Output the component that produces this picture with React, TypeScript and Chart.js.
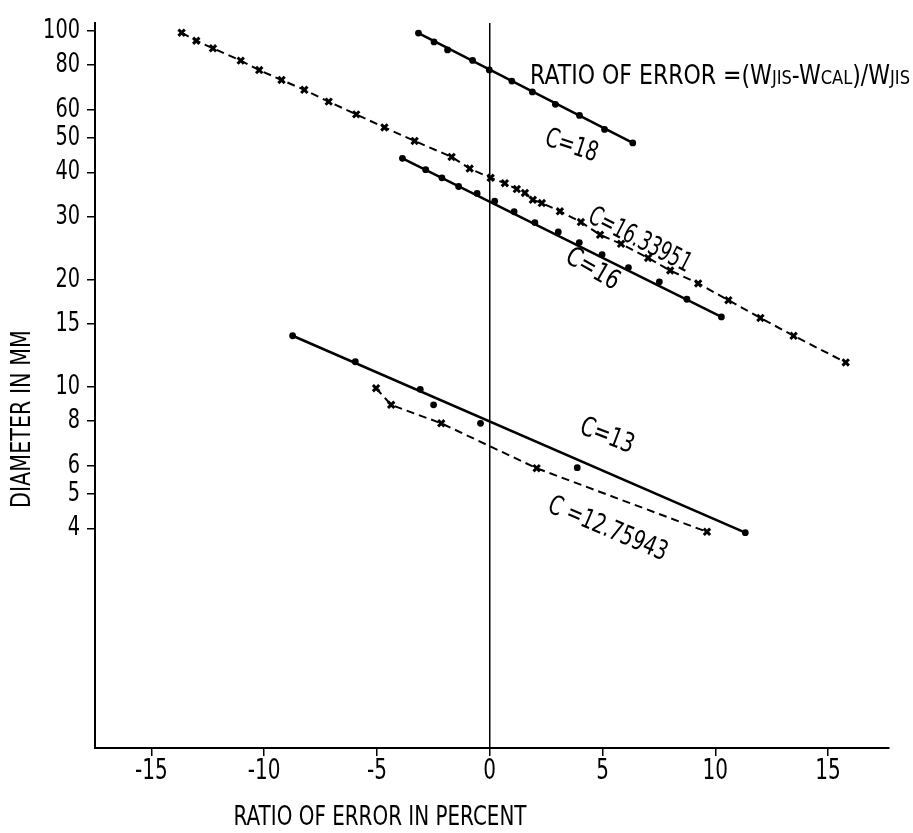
import React, { useEffect, useRef } from "react";
import { Chart, registerables } from "chart.js";

Chart.register(...registerables);

// ---------- data ----------
const X_TICKS = [-15, -10, -5, 0, 5, 10, 15];
const Y_TICKS = [4, 5, 6, 8, 10, 15, 20, 30, 40, 50, 60, 80, 100];

// C = 18 (solid, dots)
const C18_X = [-3.16, -2.47, -1.87, -0.76, -0.02, 0.98, 1.89, 2.91, 3.98, 5.09, 6.34];
const C18_Y = [98.5, 93.0, 88.3, 82.5, 77.6, 72.2, 67.3, 62.1, 57.8, 52.8, 48.4];

// C = 16.33951 (dashed, crosses)
const C1634_X = [-13.66, -13.01, -12.27, -11.04, -10.22, -9.23, -8.22, -7.14, -5.92, -4.67, -3.33, -1.69, -0.89, 0.04, 0.67, 1.2, 1.56, 1.91, 2.31, 3.11, 4.04, 4.89, 5.82, 7.02, 8.0, 9.24, 10.58, 12.0, 13.47, 15.78];
const C1634_Y = [98.7, 93.7, 89.2, 82.4, 77.5, 72.7, 68.2, 63.2, 58.2, 53.5, 49.0, 44.2, 41.0, 38.6, 37.3, 35.9, 35.0, 33.5, 32.8, 31.1, 29.0, 26.7, 25.2, 23.0, 21.2, 19.5, 17.5, 15.6, 13.9, 11.7];

// C = 16 (solid, dots)
const C16_X = [-3.87, -2.84, -2.12, -1.38, -0.56, 0.22, 1.08, 2.0, 3.04, 3.97, 4.98, 6.15, 7.52, 8.74, 10.27];
const C16_Y = [43.8, 40.7, 38.6, 36.5, 34.9, 33.2, 31.0, 28.9, 27.2, 25.4, 23.5, 21.6, 19.7, 17.6, 15.7];

// C = 13 (solid, dots)
const C13_X = [-8.74, -5.96, -3.08, -2.49, -0.41, 3.88, 11.33];
const C13_Y = [13.9, 11.75, 9.83, 8.89, 7.89, 5.92, 3.89];

// C = 12.75943 (dashed, crosses)
const C1276_X = [-5.04, -4.37, -2.15, 2.08, 9.63];
const C1276_Y = [9.9, 8.89, 7.89, 5.9, 3.91];

const SERIES_LABELS = ["C=18", "C=16.33951", "C=16", "C=13", "C =12.75943"];

const X_MIN = -17.5;
const X_MAX = 17.7;
const Y_MIN = 0.966;
const Y_MAX = 105.1;

// ---------- helpers ----------
const FONT = '"DejaVu Sans", sans-serif';

const toPts = (xs: number[], ys: number[]) => xs.map((x, i) => ({ x, y: ys[i] }));
const ends = (xs: number[], ys: number[]) => [
  { x: xs[0], y: ys[0] },
  { x: xs[xs.length - 1], y: ys[ys.length - 1] },
];

const solidLine = (xs: number[], ys: number[]) => ({
  data: ends(xs, ys),
  showLine: true,
  borderColor: "#000",
  borderWidth: 2.5,
  pointRadius: 0,
  fill: false,
});
const dots = (xs: number[], ys: number[]) => ({
  data: toPts(xs, ys),
  showLine: false,
  pointStyle: "circle",
  pointRadius: 3.4,
  pointBackgroundColor: "#000",
  pointBorderColor: "#000",
  pointBorderWidth: 0,
});
const dashed = (xs: number[], ys: number[]) => ({
  data: toPts(xs, ys),
  showLine: true,
  borderColor: "#000",
  borderWidth: 2,
  borderDash: [8, 5],
  pointStyle: "crossRot",
  pointRadius: 4.5,
  pointBorderWidth: 3,
  pointBorderColor: "#000",
  pointBackgroundColor: "#000",
  fill: false,
});

function fitText(ctx: CanvasRenderingContext2D, text: string, x: number, y: number, angle: number, size: number, targetW: number) {
  ctx.save();
  ctx.translate(x, y);
  ctx.rotate((angle * Math.PI) / 180);
  ctx.font = `${size}px ${FONT}`;
  const w = ctx.measureText(text).width;
  ctx.scale(targetW / w, 1);
  ctx.textAlign = "center";
  ctx.textBaseline = "middle";
  ctx.fillStyle = "#000";
  ctx.fillText(text, 0, 0);
  ctx.restore();
}

function narrowText(ctx: CanvasRenderingContext2D, text: string, x: number, y: number, size: number, sx: number, align: "left" | "right" | "center") {
  ctx.save();
  ctx.font = `${size}px ${FONT}`;
  const w = ctx.measureText(text).width * sx;
  let left = x;
  if (align === "right") left = x - w;
  if (align === "center") left = x - w / 2;
  ctx.translate(left, y);
  ctx.scale(sx, 1);
  ctx.textAlign = "left";
  ctx.textBaseline = "middle";
  ctx.fillStyle = "#000";
  ctx.fillText(text, 0, 0);
  ctx.restore();
}

// label anchors in data coordinates, with rotation and length
const LABEL_POS = [
  { x: 3.62, y: 47.3, angle: 18, w: 54 },
  { x: 6.64, y: 25.7, angle: 27, w: 112 },
  { x: 4.55, y: 21.3, angle: 30, w: 58 },
  { x: 5.19, y: 7.24, angle: 21, w: 56 },
  { x: 5.22, y: 3.97, angle: 23, w: 127 },
];

const textPlugin = {
  id: "textPlugin",
  afterDraw(chart: any) {
    const ctx: CanvasRenderingContext2D = chart.ctx;
    const xs = chart.scales.x;
    const ys = chart.scales.y;

    // tick labels (narrow plotter-like lettering), placed by the scales
    ctx.save();
    ctx.font = `27px ${FONT}`;
    const sx = 12.3 / ctx.measureText("0").width;
    ctx.restore();
    ys.ticks.forEach((t: any) => {
      narrowText(ctx, String(t.value), ys.right - 15, ys.getPixelForValue(t.value), 27, sx, "right");
    });
    xs.ticks.forEach((t: any) => {
      narrowText(ctx, String(t.value), xs.getPixelForValue(t.value), xs.top + 24, 28, sx, "center");
    });

    SERIES_LABELS.forEach((t, i) => {
      const p = LABEL_POS[i];
      fitText(ctx, t, xs.getPixelForValue(p.x), ys.getPixelForValue(p.y), p.angle, 27, p.w);
    });
    // axis titles
    fitText(ctx, "DIAMETER IN MM", 23, 419, -90, 27, 178);
    fitText(ctx, "RATIO OF ERROR IN PERCENT", 380, 818, 0, 27, 293);

    // formula
    const parts = [
      { t: "RATIO OF ERROR =(W", s: 27 },
      { t: "JIS", s: 20 },
      { t: "-W", s: 27 },
      { t: "CAL", s: 20 },
      { t: ")/W", s: 27 },
      { t: "JIS", s: 20 },
    ];
    ctx.save();
    let total = 0;
    parts.forEach((p) => {
      ctx.font = `${p.s}px ${FONT}`;
      total += ctx.measureText(p.t).width;
    });
    const fx = 380 / total;
    ctx.translate(530, 84);
    ctx.scale(fx, 1);
    ctx.textBaseline = "alphabetic";
    ctx.textAlign = "left";
    ctx.fillStyle = "#000";
    let cx = 0;
    parts.forEach((p) => {
      ctx.font = `${p.s}px ${FONT}`;
      ctx.fillText(p.t, cx, 0);
      cx += ctx.measureText(p.t).width;
    });
    ctx.restore();
  },
};

export default function App() {
  const ref = useRef<HTMLCanvasElement | null>(null);

  useEffect(() => {
    if (!ref.current) return;
    const chart = new Chart(ref.current, {
      type: "scatter",
      data: {
        datasets: [
          { data: [{ x: 0, y: Y_MAX }, { x: 0, y: Y_MIN }], showLine: true, borderColor: "#000", borderWidth: 1.5, pointRadius: 0 },
          solidLine(C18_X, C18_Y),
          dots(C18_X, C18_Y),
          dashed(C1634_X, C1634_Y),
          solidLine(C16_X, C16_Y),
          dots(C16_X, C16_Y),
          solidLine(C13_X, C13_Y),
          dots(C13_X, C13_Y),
          dashed(C1276_X, C1276_Y),
        ] as any,
      },
      options: {
        animation: false,
        responsive: false,
        maintainAspectRatio: false,
        layout: { padding: { top: 23, right: 24, left: 0, bottom: 0 } },
        plugins: { legend: { display: false }, tooltip: { enabled: false } },
        scales: {
          x: {
            type: "linear",
            min: X_MIN,
            max: X_MAX,
            afterBuildTicks: (s: any) => {
              s.ticks = X_TICKS.map((v) => ({ value: v }));
            },
            afterFit: (s: any) => {
              s.height = 85;
            },
            grid: { display: true, drawOnChartArea: false, drawTicks: true, tickLength: 8, color: "#000", lineWidth: 1.5 },
            border: { display: true, color: "#000", width: 2 },
            ticks: { display: false, autoSkip: false, callback: (v: any) => String(v) },
          },
          y: {
            type: "logarithmic",
            min: Y_MIN,
            max: Y_MAX,
            afterBuildTicks: (s: any) => {
              s.ticks = Y_TICKS.map((v) => ({ value: v }));
            },
            afterFit: (s: any) => {
              s.width = 95;
            },
            grid: { display: true, drawOnChartArea: false, drawTicks: true, tickLength: 8, color: "#000", lineWidth: 1.5 },
            border: { display: true, color: "#000", width: 2 },
            ticks: { display: false, autoSkip: false, callback: (v: any) => String(v) },
          },
        },
      } as any,
      plugins: [textPlugin],
    });
    return () => chart.destroy();
  }, []);

  return (
    <div style={{ position: "fixed", left: 0, top: 0, width: 913, height: 833, background: "#fff" }}>
      <canvas ref={ref} width={913} height={833} style={{ display: "block", width: 913, height: 833 }} />
    </div>
  );
}
